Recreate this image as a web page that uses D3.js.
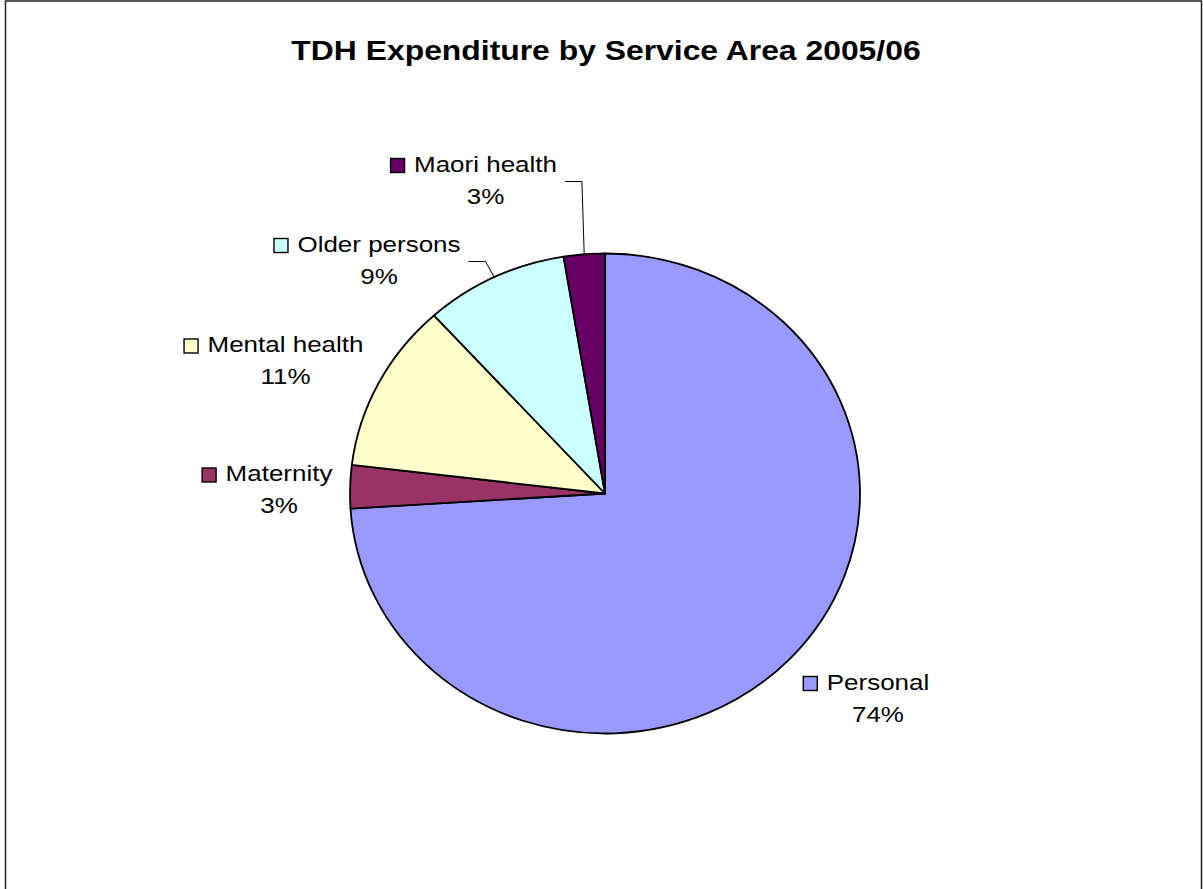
<!DOCTYPE html>
<html>
<head>
<meta charset="utf-8">
<script src="https://cdn.jsdelivr.net/npm/d3@7"></script>
<style>
  html, body { margin: 0; padding: 0; background: #fff; }
  svg { display: block; font-family: "Liberation Sans", Arial, sans-serif; }
</style>
</head>
<body>
<svg id="chart" width="1203" height="889"></svg>
<script>
// Service areas and their share of expenditure (%)
const categories = ["Personal", "Maternity", "Mental health", "Older persons", "Maori health"];
const values = [74.0, 2.9, 11.4, 9.1, 2.6];
const colors = ["#9999FF", "#993366", "#FFFFCC", "#CCFFFF", "#660066"];
const title = "TDH Expenditure by Service Area 2005/06";

// Label placement relative to the pie centre (text centre x, first baseline y),
// and whether the label is joined to its slice by a leader line.
const labelLayout = [
  { dx: 273,    dy: 196,   leader: false },
  { dx: -326,   dy: -12.5, leader: false },
  { dx: -319.5, dy: -141.5, leader: false },
  { dx: -226,   dy: -242,  leader: true },
  { dx: -119.5, dy: -322,  leader: true }
];

const W = 1203, H = 889;
const cx = 605, cy = 493.5;
const ry = 240, stretchX = 255 / 240;   // the pie is drawn slightly wider than tall
const textStretch = 1.18;                // horizontal text stretch
const lineGap = 32;

const svg = d3.select("#chart");

// chart area frame
svg.append("rect")
  .attr("x", 5.5).attr("y", 1)
  .attr("width", 1196).attr("height", 1000)
  .attr("fill", "#fff")
  .attr("stroke", "#222").attr("stroke-width", 1.5);

// helper: stretched text placed by its centre
function stretchedText(sel, str, x, y, size, weight) {
  const t = sel.append("text")
    .attr("y", y)
    .attr("font-size", size)
    .attr("font-weight", weight || "normal")
    .attr("fill", "#000")
    .text(str);
  const natural = t.node().getComputedTextLength();
  const len = natural * textStretch;
  t.attr("x", x - len / 2)
    .attr("textLength", len)
    .attr("lengthAdjust", "spacingAndGlyphs");
  return len;
}

// title
stretchedText(svg, title, 606, 59.5, 27, "bold");

// pie
const data = categories.map((c, i) => ({ name: c, value: values[i], color: colors[i] }));
const total = d3.sum(values);
const pie = d3.pie().sort(null).value(d => d.value).startAngle(0).endAngle(2 * Math.PI);
const arcs = pie(data);
const arc = d3.arc().innerRadius(0).outerRadius(ry);

const pieG = svg.append("g")
  .attr("transform", `translate(${cx},${cy}) scale(${stretchX},1)`);

pieG.selectAll("path.slice")
  .data(arcs)
  .join("path")
  .attr("class", "slice")
  .attr("d", arc)
  .attr("fill", d => d.data.color)
  .attr("stroke", "#000")
  .attr("stroke-width", 1.8)
  .attr("stroke-linejoin", "round")
  .attr("vector-effect", "non-scaling-stroke");

// labels
const fmt = v => Math.round(v / total * 100) + "%";
const labelsG = svg.append("g");

arcs.forEach((a, i) => {
  const lay = labelLayout[i];
  const tx = cx + lay.dx, ty = cy + lay.dy;
  const g = labelsG.append("g");
  const len = stretchedText(g, a.data.name, tx, ty, 22);
  stretchedText(g, fmt(a.data.value), tx, ty + lineGap, 22);

  // legend key
  g.append("rect")
    .attr("x", tx - len / 2 - 23.5)
    .attr("y", ty - 13)
    .attr("width", 14).attr("height", 14)
    .attr("fill", a.data.color)
    .attr("stroke", "#000").attr("stroke-width", 1.4);

  if (lay.leader) {
    const mid = (a.startAngle + a.endAngle) / 2;
    const ex = cx + Math.sin(mid) * ry * stretchX;
    const ey = cy - Math.cos(mid) * ry;
    const hy = ty + 10;
    const hx0 = tx + len / 2 + 8;
    const hx1 = hx0 + 17;
    g.append("path")
      .attr("d", d3.line()([[hx0, hy], [hx1, hy], [ex, ey]]))
      .attr("fill", "none")
      .attr("stroke", "#000").attr("stroke-width", 1);
  }
});
</script>
</body>
</html>
